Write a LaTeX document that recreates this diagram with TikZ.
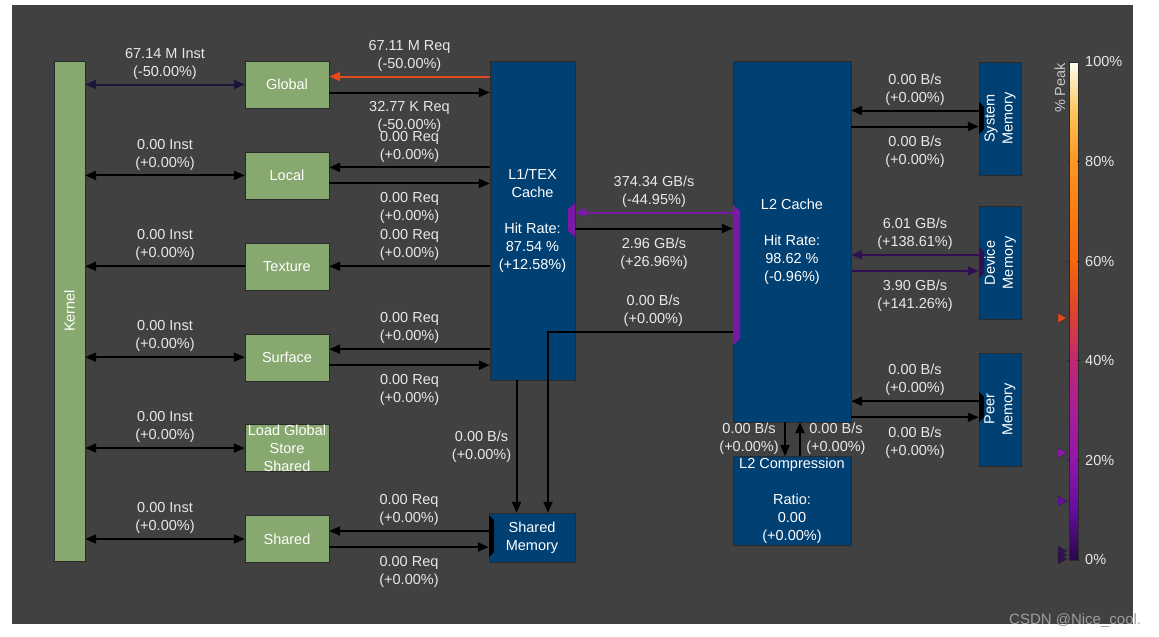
\documentclass[tikz,border=0pt]{standalone}
\usepackage{fontspec}
\setmainfont{Liberation Sans}
\usetikzlibrary{arrows.meta, positioning}
\definecolor{panelgray}{RGB}{65,65,65}
\definecolor{unitgreen}{RGB}{135,168,110}
\definecolor{cacheblue}{RGB}{0,64,114}
\definecolor{edgegray}{RGB}{42,42,42}
\definecolor{labelwhite}{RGB}{232,232,232}
\definecolor{hotred}{RGB}{226,74,30}
\definecolor{midpurple}{RGB}{122,24,168}
\definecolor{deeppurple}{RGB}{48,16,82}
\definecolor{nightblue}{RGB}{26,22,56}
\definecolor{marksgray}{RGB}{158,158,158}
\definecolor{captiongray}{RGB}{200,200,200}
\definecolor{pk0}{RGB}{40,6,72}
\definecolor{pk10}{RGB}{100,14,158}
\definecolor{pk20}{RGB}{145,22,170}
\definecolor{pk30}{RGB}{168,30,152}
\definecolor{pk40}{RGB}{190,40,115}
\definecolor{pk50}{RGB}{222,68,42}
\definecolor{pk60}{RGB}{246,102,14}
\definecolor{pk70}{RGB}{250,124,20}
\definecolor{pk80}{RGB}{255,150,36}
\definecolor{pk90}{RGB}{255,196,90}
\definecolor{pk100}{RGB}{255,253,240}

\begin{document}
\begin{tikzpicture}[
		x=1pt, y=-1pt,
		every node/.style={font=\fontsize{14.5}{18}\selectfont, text=labelwhite},
		unitbox/.style={draw=edgegray, fill=unitgreen, minimum width=84pt, minimum height=47pt,
			inner sep=1pt, align=center, text=white},
		cachebox/.style={draw=edgegray, fill=cacheblue, inner sep=1pt, align=center, text=white},
		membox/.style={cachebox, minimum width=42pt, minimum height=113pt},
		sidetext/.style={rotate=90, align=center, text=white, inner sep=0pt},
		lblabove/.style={above=1pt, align=center},
		lblbelow/.style={below=5pt, align=center},
		arrow/.style={-{Triangle[length=11pt, width=9pt]}, line width=2pt, draw=black},
		biarrow/.style={arrow, {Triangle[length=11pt, width=9pt]}-{Triangle[length=11pt, width=9pt]}},
		peakmark/.style={draw=edgegray, line width=0.4pt}
	]
		\fill[white] (0,0) rectangle (1159,637);
		\fill[panelgray] (12,5) rectangle (1133,624);

		\node[unitbox, minimum width=31pt, minimum height=500pt] (kernel) at (69.5,311) {};
		\node[sidetext] (kerneltext) at (kernel) {Kernel};
		\node[unitbox] (global) at (287,84.5) {Global};
		\node[unitbox, below=43.5pt of global] (local) {Local};
		\node[unitbox, below=43.5pt of local] (texture) {Texture};
		\node[unitbox, below=43.5pt of texture] (surface) {Surface};
		\node[unitbox, below=43.5pt of surface] (ldgsts) {};
		\node[align=center, text=white, inner sep=0pt] (ldgststext) at (ldgsts) {Load Global\\Store\\Shared};
		\node[unitbox, below=43.5pt of ldgsts] (shared) {Shared};

		\node[cachebox, minimum width=85pt, minimum height=319pt] (l1tex) at (532.5,220.5)
			{L1/TEX\\Cache\\[18pt]Hit Rate:\\87.54 \%\\(+12.58\%)};
		\node[cachebox, minimum width=86pt, minimum height=49pt] (shmem) at (532,537.5) {Shared\\Memory};
		\node[cachebox, minimum width=118pt, minimum height=361pt] (l2) at (792,241.5)
			{L2 Cache\\[18pt]Hit Rate:\\98.62 \%\\(-0.96\%)};
		\node[cachebox, minimum width=118pt, minimum height=89pt, below=34pt of l2] (l2comp)
			{L2 Compression\\[18pt]Ratio:\\0.00\\(+0.00\%)};

		\node[membox] (sysmem) at (1000,118.5) {};
		\node[membox, below=31pt of sysmem] (devmem) {};
		\node[membox, below=33pt of devmem] (peermem) {};
		\node[sidetext] (systext) at (sysmem) {System\\Memory};
		\node[sidetext] (devtext) at (devmem) {Device\\Memory};
		\node[sidetext] (peertext) at (peermem) {Peer\\Memory};

		\fill[midpurple] (575,203) -- (568,209) -- (568,231) -- (575,237) -- cycle;
		\fill[midpurple] (733,205) -- (740,211) -- (740,339) -- (733,345) -- cycle;
		\fill[black] (489,515) -- (494,520) -- (494,552) -- (489,557) -- cycle;
		\fill[black] (979,102) -- (984,107) -- (984,129) -- (979,134) -- cycle;
		\fill[deeppurple] (979,247) -- (984,252) -- (984,273) -- (979,278) -- cycle;
		\fill[black] (979,392) -- (984,397) -- (984,417) -- (979,422) -- cycle;

		\draw[biarrow, draw=nightblue] (kernel.east |- global.west) -- node[lblabove] (globalinst) {67.14 M Inst\\(-50.00\%)} (global.west);
		\foreach \unit in {local, surface, ldgsts, shared}
			\draw[biarrow] (kernel.east |- \unit.west) -- node[lblabove] (\unit inst) {0.00 Inst\\(+0.00\%)} (\unit.west);
		\draw[arrow] (texture.west) -- node[lblabove] (textureinst) {0.00 Inst\\(+0.00\%)} (kernel.east |- texture.west);

		\draw[arrow, draw=hotred] ([yshift=8pt]global.east -| l1tex.west) -- node[lblabove] (globalld) {67.11 M Req\\(-50.00\%)} ([yshift=8pt]global.east);
		\draw[arrow] ([yshift=-8pt]global.east) -- node[lblbelow] (globalst) {32.77 K Req\\(-50.00\%)} ([yshift=-8pt]global.east -| l1tex.west);
		\foreach \unit/\mem in {local/l1tex, surface/l1tex, shared/shmem} {
			\draw[arrow] ([yshift=8pt]\unit.east -| \mem.west) -- node[lblabove] (\unit ld) {0.00 Req\\(+0.00\%)} ([yshift=8pt]\unit.east);
			\draw[arrow] ([yshift=-8pt]\unit.east) -- node[lblbelow] (\unit st) {0.00 Req\\(+0.00\%)} ([yshift=-8pt]\unit.east -| \mem.west);
		}
		\draw[arrow] (texture.east -| l1tex.west) -- node[lblabove] (textureld) {0.00 Req\\(+0.00\%)} (texture.east);

		\draw[arrow, draw=midpurple] ([yshift=8pt]l1tex.east -| l2.west) -- node[lblabove] (l2tol1) {374.34 GB/s\\(-44.95\%)} ([yshift=8pt]l1tex.east);
		\draw[arrow] ([yshift=-8pt]l1tex.east) -- node[lblbelow] (l1tol2) {2.96 GB/s\\(+26.96\%)} ([yshift=-8pt]l1tex.east -| l2.west);
		\coordinate (shbend) at (548,332);
		\draw[arrow] (shbend -| l2.west) -- node[lblabove, pos=0.43] (l2tosh) {0.00 B/s\\(+0.00\%)} (shbend) -- (shbend |- shmem.north);
		\draw[arrow] ([xshift=-16pt]l1tex.south) -- node[left=1pt, align=center] (l1tosh) {0.00 B/s\\(+0.00\%)} ([xshift=-16pt]l1tex.south |- shmem.north);

		\draw[arrow] ([xshift=-7pt]l2.south) -- node[left=2pt, align=center] (l2tocomp) {0.00 B/s\\(+0.00\%)} ([xshift=-7pt]l2comp.north);
		\draw[arrow] ([xshift=8pt]l2comp.north) -- node[right=2pt, align=center] (comptol2) {0.00 B/s\\(+0.00\%)} ([xshift=8pt]l2.south);

		\draw[arrow] ([yshift=8pt]sysmem.west) -- node[lblabove] (sysrd) {0.00 B/s\\(+0.00\%)} ([yshift=8pt]sysmem.west -| l2.east);
		\draw[arrow] ([yshift=-8pt]sysmem.west -| l2.east) -- node[lblbelow] (syswr) {0.00 B/s\\(+0.00\%)} ([yshift=-8pt]sysmem.west);
		\draw[arrow, draw=deeppurple] ([yshift=8pt]devmem.west) -- node[lblabove] (devrd) {6.01 GB/s\\(+138.61\%)} ([yshift=8pt]devmem.west -| l2.east);
		\draw[arrow, draw=deeppurple] ([yshift=-8pt]devmem.west -| l2.east) -- node[lblbelow] (devwr) {3.90 GB/s\\(+141.26\%)} ([yshift=-8pt]devmem.west);
		\draw[arrow] ([yshift=8pt]peermem.west) -- node[lblabove] (peerrd) {0.00 B/s\\(+0.00\%)} ([yshift=8pt]peermem.west -| l2.east);
		\draw[arrow] ([yshift=-8pt]peermem.west -| l2.east) -- node[lblbelow] (peerwr) {0.00 B/s\\(+0.00\%)} ([yshift=-8pt]peermem.west);

		\foreach \pa/\pb/\cb/\ct in {0/10/pk0/pk10, 10/20/pk10/pk20, 20/30/pk20/pk30, 30/40/pk30/pk40, 40/50/pk40/pk50,
				50/60/pk50/pk60, 60/70/pk60/pk70, 70/80/pk70/pk80, 80/90/pk80/pk90, 90/100/pk90/pk100}
			\shade[bottom color=\cb, top color=\ct] (1069,{560-4.98*\pa}) rectangle (1078,{560-4.98*\pb});
		\draw[edgegray, line width=0.8pt] (1069,62) rectangle (1078,560);
		\foreach \pc in {20,40,60,80}
			\draw[edgegray, line width=1pt] (1067,{560-4.98*\pc}) -- (1070,{560-4.98*\pc}) (1077,{560-4.98*\pc}) -- (1080,{560-4.98*\pc});
		\foreach \pc in {0,20,...,100}
			\node[anchor=west, inner sep=2pt] (tick\pc) at (1083,{560-4.98*\pc}) {\pc\%};
		\node[rotate=90, text=captiongray, inner sep=0pt] (peakcap) at (1060,88) {\% Peak};

		\fill[peakmark, fill=hotred] (1058,313) -- (1067,318) -- (1058,323) -- cycle;
		\fill[peakmark, fill=pk20] (1058,448) -- (1067,453) -- (1058,458) -- cycle;
		\fill[peakmark, fill=pk10] (1058,496) -- (1067,501) -- (1058,506) -- cycle;
		\foreach \my in {551,555,559}
			\filldraw[peakmark, fill=deeppurple] (1058,\my-5) -- (1067,\my) -- (1058,\my+5) -- cycle;

		\node[anchor=west, text=marksgray, font=\fontsize{15}{18}\selectfont, inner sep=2pt] (watermark) at (1007,621) {CSDN @Nice\_cool.};
	\end{tikzpicture}
\end{document}
